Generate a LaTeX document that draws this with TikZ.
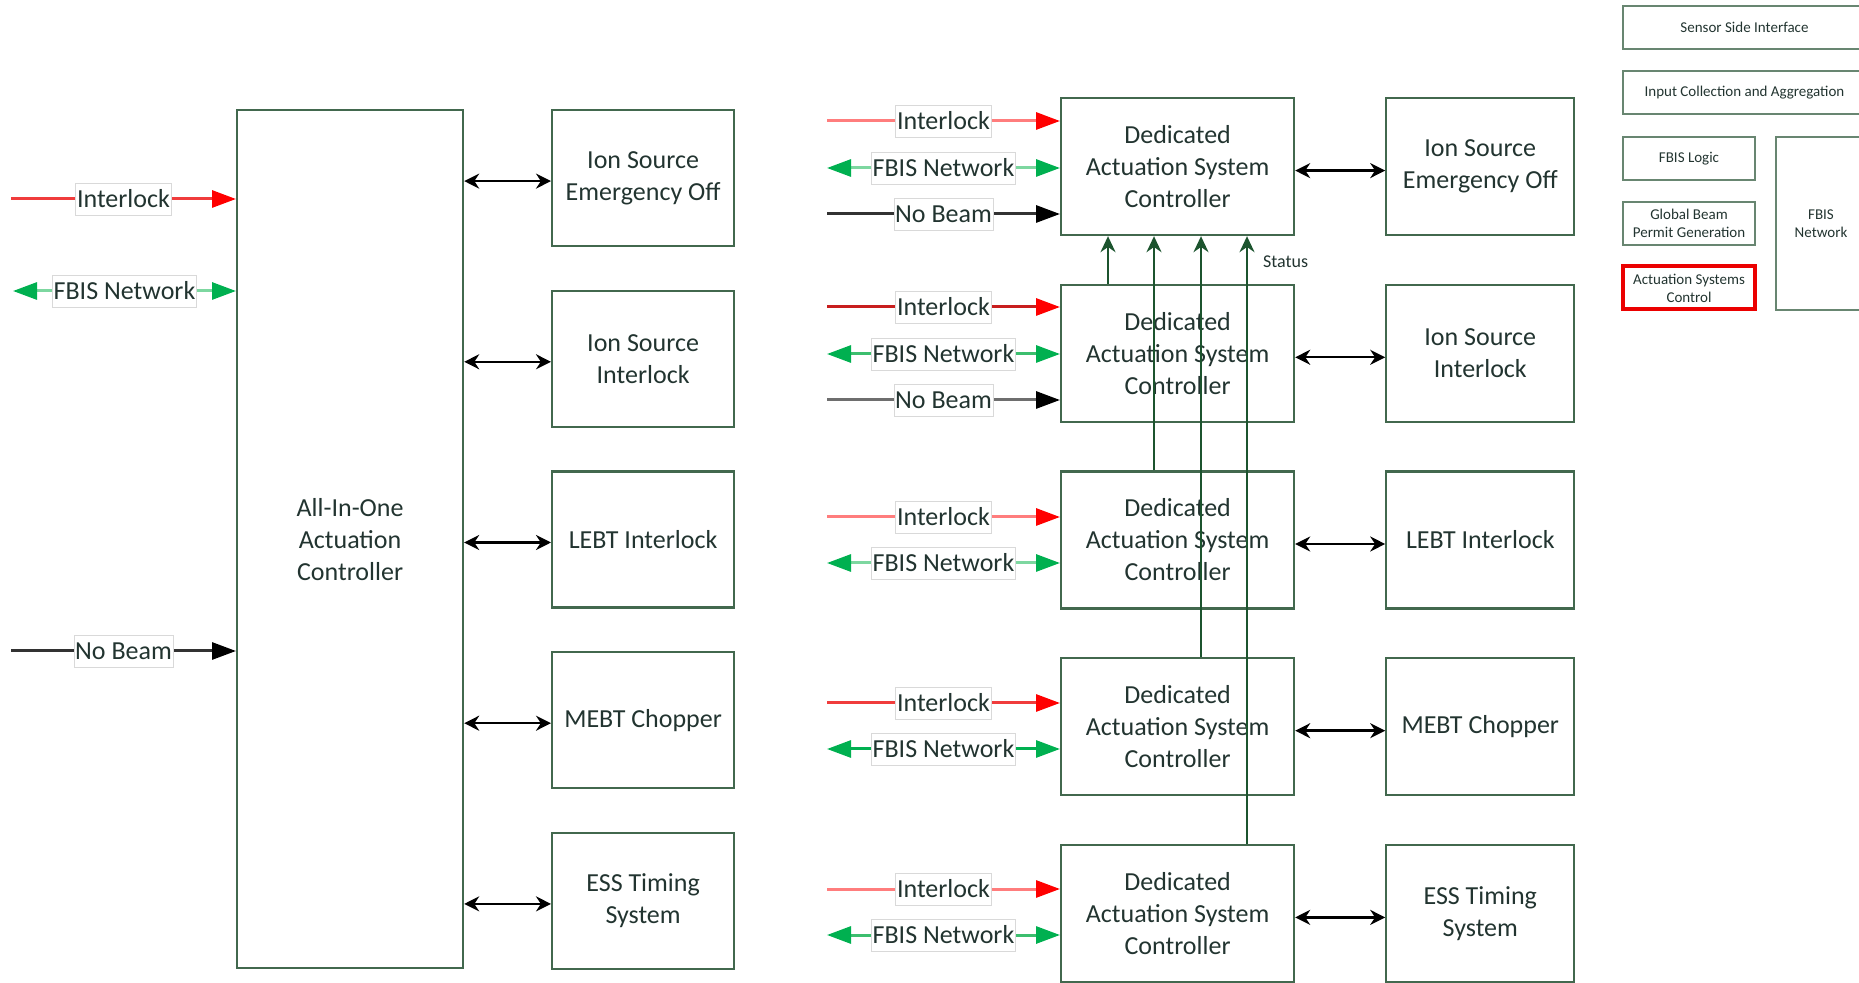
\documentclass[tikz,border=0pt]{standalone}
\usepackage{fontspec}
\setmainfont{Carlito}
\usetikzlibrary{arrows.meta, positioning}

\definecolor{boxgreen}{RGB}{66,104,78}
\definecolor{statgreen}{RGB}{28,84,46}
\definecolor{txtdark}{RGB}{34,52,48}
\definecolor{tipred}{RGB}{255,0,0}
\definecolor{ilkpale}{RGB}{255,125,125}
\definecolor{ilkmid}{RGB}{240,60,60}
\definecolor{ilkdeep}{RGB}{200,30,30}
\definecolor{tipgreen}{RGB}{0,176,80}
\definecolor{netpale}{RGB}{125,215,160}
\definecolor{netmid}{RGB}{60,190,110}
\definecolor{nbdark}{RGB}{50,50,50}
\definecolor{nbgray}{RGB}{110,110,110}
\definecolor{legred}{RGB}{235,0,0}

\begin{document}
\begin{tikzpicture}[x=0.5pt, y=-0.5pt,
  box/.style={draw=boxgreen, line width=1.1pt, rectangle, align=center, text=txtdark, font=\fontsize{13}{16}\selectfont},
  aiobox/.style={box, minimum width=113pt, minimum height=429pt},
  devbox/.style={box, minimum width=91pt, minimum height=68pt},
  dasc/.style={box, minimum width=116.5pt, minimum height=68.5pt},
  plant/.style={box, minimum width=94pt, minimum height=68.5pt},
  legend/.style={draw=boxgreen!80, line width=0.8pt, align=center, text=txtdark, font=\fontsize{7.5}{9}\selectfont, minimum height=21.5pt},
  lbl/.style={fill=white, draw=black!15, line width=0.4pt, inner xsep=0.6pt, inner ysep=0pt, minimum height=16pt, text=txtdark, font=\fontsize{13}{15}\selectfont},
  ilk/.style={line width=1.5pt, -{Triangle[length=12pt,width=8.5pt,color=tipred]}},
  net/.style={line width=1.5pt, {Triangle[length=12pt,width=8.5pt,color=tipgreen]}-{Triangle[length=12pt,width=8.5pt,color=tipgreen]}},
  nobeam/.style={line width=1.5pt, -{Triangle[length=12pt,width=8.5pt,color=black]}},
  link/.style={line width=1.2pt, black, {Stealth[length=7.5pt,width=7.5pt]}-{Stealth[length=7.5pt,width=7.5pt]}},
  stat/.style={line width=1.1pt, statgreen, -{Stealth[length=8pt,width=7.5pt]}}]

  \useasboundingbox (0,0) rectangle (1859,983);

  \node [aiobox, anchor=north west] (aio) at (236,109) {All-In-One\\Actuation\\Controller};
  \node [devbox, anchor=north west] (isoff) at (551,109) {Ion Source\\Emergency Off};
  \node [devbox, below=21.25pt of isoff] (isilk) {Ion Source\\Interlock};
  \node [devbox, below=21.25pt of isilk] (lebt) {LEBT Interlock};
  \node [devbox, below=21.25pt of lebt] (mebt) {MEBT Chopper};
  \node [devbox, below=21.25pt of mebt] (timing) {ESS Timing\\System};

  \node [dasc, anchor=north west] (dasc1) at (1060,97) {Dedicated\\Actuation System\\Controller};
  \node [dasc, below=23.75pt of dasc1] (dasc2) {Dedicated\\Actuation System\\Controller};
  \node [dasc, below=23.75pt of dasc2] (dasc3) {Dedicated\\Actuation System\\Controller};
  \node [dasc, below=23.75pt of dasc3] (dasc4) {Dedicated\\Actuation System\\Controller};
  \node [dasc, below=23.75pt of dasc4] (dasc5) {Dedicated\\Actuation System\\Controller};
  \node [plant, right=45pt of dasc1] (isoffb) {Ion Source\\Emergency Off};
  \node [plant, right=45pt of dasc2] (isilkb) {Ion Source\\Interlock};
  \node [plant, right=45pt of dasc3] (lebtb) {LEBT Interlock};
  \node [plant, right=45pt of dasc4] (mebtb) {MEBT Chopper};
  \node [plant, right=45pt of dasc5] (timingb) {ESS Timing\\System};

  \node [legend, minimum width=121.5pt] (ssi) at (1744.5,27.5) {Sensor Side Interface};
  \node [legend, minimum width=121.5pt] (ica) at (1744.5,92.5) {Input Collection and Aggregation};
  \node [legend, minimum width=66pt] (logic) at (1689,158.5) {FBIS Logic};
  \node [legend, minimum width=66pt] (gbp) at (1689,223.5) {Global Beam\\Permit Generation};
  \node [legend, minimum width=66pt, draw=legred, line width=2pt] (asc) at (1689,288) {Actuation Systems\\Control};
  \node [legend, minimum width=45pt, minimum height=86.5pt] (fnet) at (1821,223.5) {FBIS\\Network};

  \coordinate (a1) at (11,199);
  \coordinate (a2) at (13,291);
  \coordinate (a3) at (11,651);
  \draw [ilk, ilkmid] (a1) -- node[lbl] {Interlock} (a1 -| aio.west);
  \draw [net, netpale] (a2) -- node[lbl] {FBIS Network} (a2 -| aio.west);
  \draw [nobeam, nbdark] (a3) -- node[lbl] {No Beam} (a3 -| aio.west);

  \draw [link] ([yshift=-1.5pt]aio.east |- isoff) -- ([yshift=-1.5pt]isoff.west);
  \draw [link] ([yshift=-1.5pt]aio.east |- isilk) -- ([yshift=-1.5pt]isilk.west);
  \draw [link] ([yshift=-1.5pt]aio.east |- lebt) -- ([yshift=-1.5pt]lebt.west);
  \draw [link] ([yshift=-1.5pt]aio.east |- mebt) -- ([yshift=-1.5pt]mebt.west);
  \draw [link] ([yshift=-1.5pt]aio.east |- timing) -- ([yshift=-1.5pt]timing.west);

  \coordinate (d1a) at (827,121);
  \coordinate (d1b) at (827,168);
  \coordinate (d1c) at (827,214);
  \coordinate (d2a) at (827,307);
  \coordinate (d2b) at (827,354);
  \coordinate (d2c) at (827,400);
  \coordinate (d3a) at (827,517);
  \coordinate (d3b) at (827,563);
  \coordinate (d4a) at (827,703);
  \coordinate (d4b) at (827,749);
  \coordinate (d5a) at (827,889);
  \coordinate (d5b) at (827,935);
  \draw [ilk, ilkpale] (d1a) -- node[lbl] {Interlock} (d1a -| dasc1.west);
  \draw [net, netpale] (d1b) -- node[lbl] {FBIS Network} (d1b -| dasc1.west);
  \draw [nobeam, nbdark] (d1c) -- node[lbl] {No Beam} (d1c -| dasc1.west);
  \draw [ilk, ilkdeep] (d2a) -- node[lbl] {Interlock} (d2a -| dasc2.west);
  \draw [net, netmid] (d2b) -- node[lbl] {FBIS Network} (d2b -| dasc2.west);
  \draw [nobeam, nbgray] (d2c) -- node[lbl] {No Beam} (d2c -| dasc2.west);
  \draw [ilk, ilkpale] (d3a) -- node[lbl] {Interlock} (d3a -| dasc3.west);
  \draw [net, netpale] (d3b) -- node[lbl] {FBIS Network} (d3b -| dasc3.west);
  \draw [ilk, ilkmid] (d4a) -- node[lbl] {Interlock} (d4a -| dasc4.west);
  \draw [net, tipgreen] (d4b) -- node[lbl] {FBIS Network} (d4b -| dasc4.west);
  \draw [ilk, ilkpale] (d5a) -- node[lbl] {Interlock} (d5a -| dasc5.west);
  \draw [net, netmid] (d5b) -- node[lbl] {FBIS Network} (d5b -| dasc5.west);

  \draw [link] ([yshift=-2pt]dasc1.east) -- ([yshift=-2pt]isoffb.west);
  \draw [link] ([yshift=-2pt]dasc2.east) -- ([yshift=-2pt]isilkb.west);
  \draw [link] ([yshift=-2pt]dasc3.east) -- ([yshift=-2pt]lebtb.west);
  \draw [link] ([yshift=-2pt]dasc4.east) -- ([yshift=-2pt]mebtb.west);
  \draw [link] ([yshift=-2pt]dasc5.east) -- ([yshift=-2pt]timingb.west);

  \coordinate (s1) at (1108,0);
  \coordinate (s2) at (1154,0);
  \coordinate (s3) at (1201,0);
  \coordinate (s4) at (1247,0);
  \draw [stat] (s1 |- dasc2.north) -- (s1 |- dasc1.south);
  \draw [stat] (s2 |- dasc3.north) -- (s2 |- dasc1.south);
  \draw [stat] (s3 |- dasc4.north) -- (s3 |- dasc1.south);
  \draw [stat] (s4 |- dasc5.north) -- (s4 |- dasc1.south);
  \node [anchor=west, text=txtdark, font=\fontsize{9}{10}\selectfont] (status) at (1256,262) {Status};
\end{tikzpicture}
\end{document}
